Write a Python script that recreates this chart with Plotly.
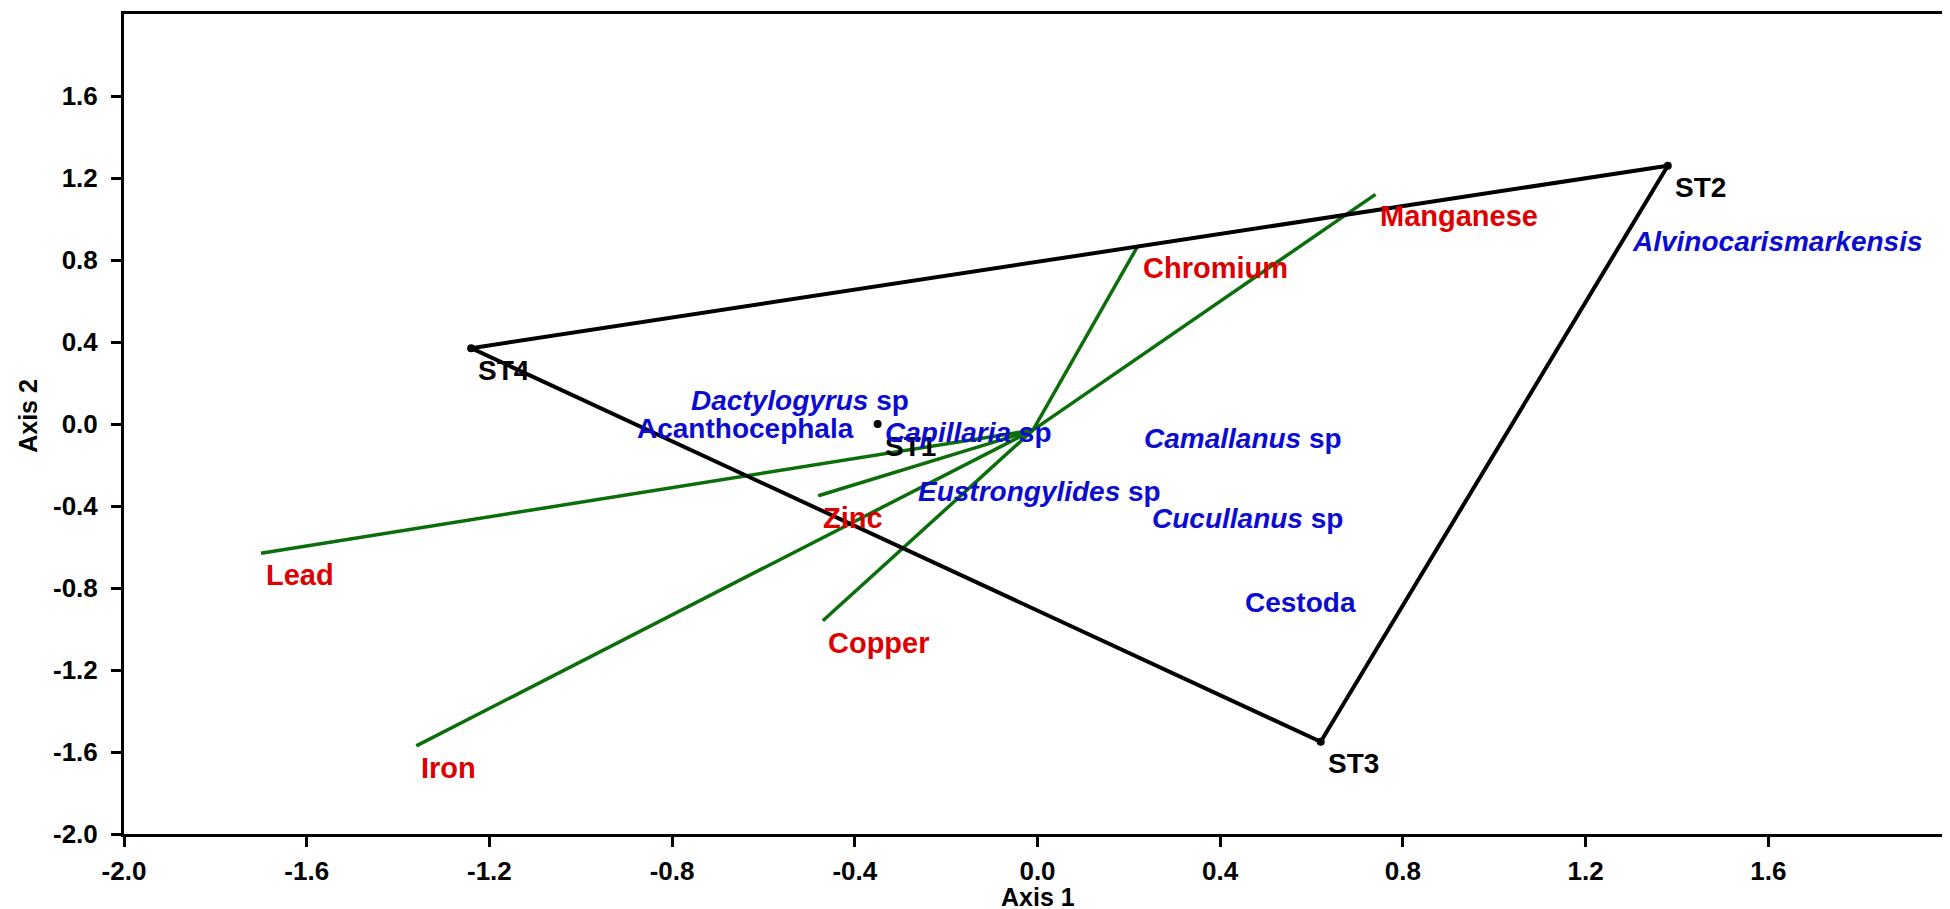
import plotly.graph_objects as go

# ---------------- data ----------------
stations = ["ST1", "ST2", "ST3", "ST4"]
station_x = [-0.35, 1.38, 0.62, -1.24]
station_y = [0.00, 1.26, -1.55, 0.37]
hull_order = ["ST4", "ST2", "ST3", "ST4"]

metals = ["Manganese", "Chromium", "Lead", "Iron", "Copper", "Zinc"]
metal_x = [0.74, 0.22, -1.70, -1.36, -0.47, -0.48]
metal_y = [1.12, 0.87, -0.63, -1.57, -0.96, -0.35]
origin_x = -0.01
origin_y = -0.03

species = ["<i>Dactylogyrus</i> sp", "Acanthocephala", "<i>Capillaria</i> sp",
           "<i>Camallanus</i> sp", "<i>Eustrongylides</i> sp", "<i>Cucullanus</i> sp",
           "Cestoda", "<i>Alvinocarismarkensis</i>"]
species_x = [-0.52, -0.64, -0.15, 0.45, 0.005, 0.46, 0.575, 1.62]
species_y = [0.115, -0.02, -0.04, -0.07, -0.33, -0.46, -0.87, 0.89]

x_ticks = [-2.0, -1.6, -1.2, -0.8, -0.4, 0.0, 0.4, 0.8, 1.2, 1.6]
y_ticks = [-2.0, -1.6, -1.2, -0.8, -0.4, 0.0, 0.4, 0.8, 1.2, 1.6]

# ---------------- figure ----------------
FONT = "Liberation Sans, Arial, sans-serif"
RED = "#dc0000"
BLUE = "#0c0cd0"
GREEN = "#0b6e0b"

fig = go.Figure()

# environmental vectors
vx, vy = [], []
for mx, my in zip(metal_x, metal_y):
    vx += [origin_x, mx, None]
    vy += [origin_y, my, None]
fig.add_trace(go.Scatter(x=vx, y=vy, mode="lines",
                         line=dict(color=GREEN, width=3.5), hoverinfo="skip"))

# convex hull of stations
idx = {s: i for i, s in enumerate(stations)}
hx = [station_x[idx[s]] for s in hull_order]
hy = [station_y[idx[s]] for s in hull_order]
fig.add_trace(go.Scatter(x=hx, y=hy, mode="lines",
                         line=dict(color="black", width=4), hoverinfo="skip"))
fig.add_trace(go.Scatter(x=station_x, y=station_y, mode="markers",
                         marker=dict(color="black", size=8), hoverinfo="skip"))

annotations = []
for s, x, y in zip(stations, station_x, station_y):
    annotations.append(dict(x=x, y=y, text=s, showarrow=False, xanchor="left",
                            yanchor="middle", xshift=5, yshift=-22,
                            font=dict(family=FONT, size=28, color="black",
                                      weight="bold")))
for m, x, y in zip(metals, metal_x, metal_y):
    annotations.append(dict(x=x, y=y, text=m, showarrow=False, xanchor="left",
                            yanchor="middle", xshift=3, yshift=-22,
                            font=dict(family=FONT, size=29, color=RED,
                                      weight="bold")))
for s, x, y in zip(species, species_x, species_y):
    annotations.append(dict(x=x, y=y, text=s, showarrow=False,
                            xanchor="center", yanchor="middle",
                            font=dict(family=FONT, size=28, color=BLUE,
                                      weight="bold")))

# axis titles
annotations.append(dict(x=0.5, y=0, xref="paper", yref="paper", text="Axis 1",
                        showarrow=False, xanchor="center", yanchor="middle",
                        yshift=-63,
                        font=dict(family=FONT, size=25, color="black",
                                  weight="bold")))
annotations.append(dict(x=0, y=0.51, xref="paper", yref="paper", text="Axis 2",
                        showarrow=False, xanchor="center", yanchor="middle",
                        xshift=-96, textangle=-90,
                        font=dict(family=FONT, size=25, color="black",
                                  weight="bold")))

axis_common = dict(
    range=[-2.0, 2.0], showgrid=False, zeroline=False,
    showline=True, linecolor="black", linewidth=3, mirror=True,
    ticks="outside", ticklen=10, tickwidth=2.5, tickcolor="black",
    tickfont=dict(family=FONT, size=26, color="black", weight="bold"),
)

fig.update_layout(
    width=1950, height=909,
    margin=dict(l=116, r=7, t=3, b=83),
    paper_bgcolor="white", plot_bgcolor="white",
    showlegend=False,
    annotations=annotations,
    xaxis=dict(**axis_common, tickvals=x_ticks, ticklabelstandoff=2,
               ticktext=[f"{v:.1f}" for v in x_ticks]),
    yaxis=dict(**axis_common, tickvals=y_ticks, ticklabelstandoff=8,
               ticktext=[f"{v:.1f}" for v in y_ticks]),
)

fig.write_html("out.html")
